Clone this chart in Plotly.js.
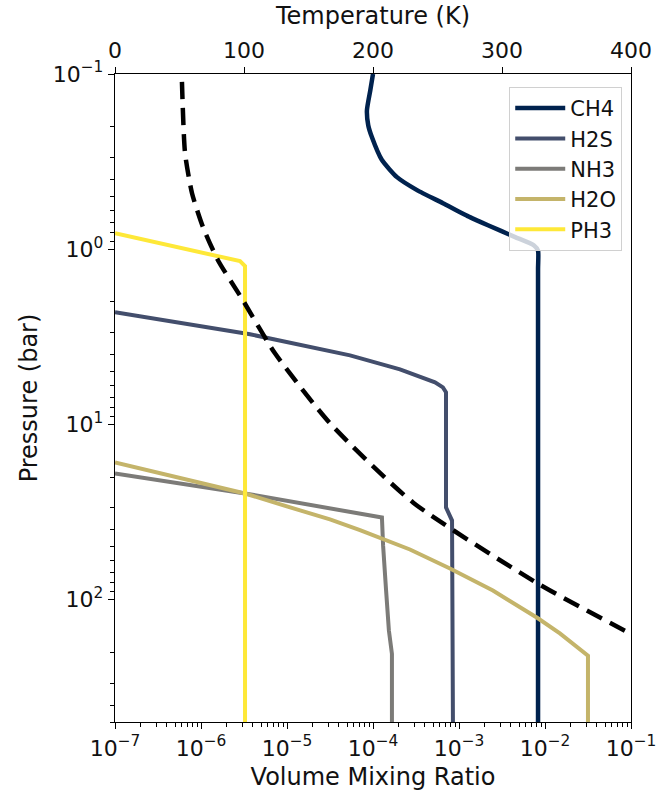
<!DOCTYPE html>
<html>
<head>
<meta charset="utf-8">
<script src="https://cdn.plot.ly/plotly-3.0.1.min.js"></script>
<style>html,body{margin:0;padding:0;background:#fff;}#chart{width:658px;height:798px;}</style>
</head>
<body>
<div id="chart"></div>
<script>
// ---- data ----
const ch4_vmr = [1.0e-4, 9.3e-5, 8.5e-5, 8.8e-5, 9.7e-5, 1.27e-4, 1.9e-4, 3.25e-4, 6.5e-4, 1.34e-3, 2.17e-3, 4.5e-3, 7.4e-3, 8.3e-3, 8.3e-3, 8.3e-3];
const ch4_p   = [0.1, 0.124, 0.161, 0.196, 0.229, 0.31, 0.388, 0.46, 0.546, 0.656, 0.73, 0.853, 0.95, 1.02, 1.3, 500];

const h2s_vmr = [1e-7, 3.72e-6, 5.41e-5, 2.06e-4, 5.26e-4, 6.5e-4, 7.06e-4, 7.06e-4, 8.3e-4, 8.5e-4];
const h2s_p   = [2.29, 3.06, 4.04, 4.85, 5.76, 6.15, 6.56, 29.8, 35.4, 500];

const nh3_vmr = [1e-7, 3.25e-6, 1.27e-4, 1.31e-4, 1.42e-4, 1.53e-4, 1.66e-4, 1.66e-4];
const nh3_p   = [19.1, 24.8, 34, 49.1, 88.8, 150, 204, 500];

const h2o_vmr = [1e-7, 5.7e-7, 3.25e-6, 1.42e-5, 3.16e-5, 7.06e-5, 2.69e-4, 7.85e-4, 2.48e-3, 8.1e-3, 1.49e-2, 3.16e-2, 3.16e-2];
const h2o_p   = [16.5, 20.1, 24.8, 31, 34.9, 40.1, 51.8, 66.5, 88.8, 127, 156, 209, 500];

const ph3_vmr = [1e-7, 2.84e-6, 3.25e-6, 3.25e-6];
const ph3_p   = [0.811, 1.17, 1.25, 500];

const temp_K  = [51.9, 54.3, 59.7, 68.2, 79.8, 99.2, 124, 166.7, 231, 327.9, 399.2];
const temp_p  = [0.111, 0.283, 0.479, 0.748, 1.156, 1.96, 3.93, 9.86, 27.9, 81.1, 156];

const species = ['CH4', 'H2S', 'NH3', 'H2O', 'PH3'];
const xTickVals = [1e-7, 1e-6, 1e-5, 1e-4, 1e-3, 1e-2, 1e-1];
const xTickText = ['10<sup>−7</sup>', '10<sup>−6</sup>', '10<sup>−5</sup>', '10<sup>−4</sup>', '10<sup>−3</sup>', '10<sup>−2</sup>', '10<sup>−1</sup>'];
const yTickVals = [0.1, 1, 10, 100];
const yTickText = ['10<sup>−1</sup>', '10<sup>0</sup>', '10<sup>1</sup>', '10<sup>2</sup>'];
const tTickVals = [0, 100, 200, 300, 400];

const colors = ['#00224e', '#434e6c', '#7c7b78', '#c4b46a', '#fee838'];
const vmrs = [ch4_vmr, h2s_vmr, nh3_vmr, h2o_vmr, ph3_vmr];
const ps = [ch4_p, h2s_p, nh3_p, h2o_p, ph3_p];
const widths = [4.5, 4, 4, 4, 4];

const traces = species.map((s, i) => {
  const line = {color: colors[i], width: widths[i], shape: 'linear'};
  if (i === 0) { line.shape = 'spline'; line.smoothing = 0.5; }
  return {x: vmrs[i], y: ps[i], name: s, type: 'scatter', mode: 'lines', line: line, xaxis: 'x', yaxis: 'y'};
});
traces.push({
  x: temp_K, y: temp_p, name: 'T', type: 'scatter', mode: 'lines', showlegend: false,
  line: {color: '#000', width: 4.5, dash: '17px,9px', shape: 'spline', smoothing: 0.6},
  xaxis: 'x2', yaxis: 'y'
});

const FONT = 'DejaVu Sans, sans-serif';
const layout = {
  width: 658, height: 798,
  margin: {l: 115, r: 27, t: 74, b: 76},
  paper_bgcolor: '#fff', plot_bgcolor: '#fff',
  font: {family: FONT, color: '#111', size: 22},
  showlegend: true,
  legend: {
    x: 0.983, xanchor: 'right', y: 0.98, yanchor: 'top',
    bgcolor: 'rgba(255,255,255,0.8)', bordercolor: '#d0d0d0', borderwidth: 1,
    font: {family: FONT, size: 21, color: '#111'}, itemwidth: 50, tracegroupgap: 0
  },
  xaxis: {
    type: 'log', range: [-7, -1], tickvals: xTickVals, ticktext: xTickText,
    showline: true, linecolor: '#000', linewidth: 1.2, mirror: false,
    ticks: 'outside', ticklen: 6, tickcolor: '#000', showgrid: false, zeroline: false,
    tickfont: {size: 22, family: FONT},
    minor: {ticks: 'outside', ticklen: 3.5, tickcolor: '#000', dtick: 'D1', showgrid: false},
    title: {text: 'Volume Mixing Ratio', font: {size: 24, family: FONT}, standoff: 8}
  },
  xaxis2: {
    overlaying: 'x', side: 'top', range: [0, 400], tickvals: tTickVals,
    showline: true, linecolor: '#000', linewidth: 1.2,
    ticks: 'outside', ticklen: 6, tickcolor: '#000', showgrid: false, zeroline: false,
    tickfont: {size: 22, family: FONT},
    title: {text: 'Temperature (K)', font: {size: 24, family: FONT}, standoff: 6}
  },
  yaxis: {
    type: 'log', range: [Math.log10(500), -1], tickvals: yTickVals, ticktext: yTickText,
    showline: true, linecolor: '#000', linewidth: 1.2, mirror: true,
    ticks: 'outside', ticklen: 6, tickcolor: '#000', showgrid: false, zeroline: false,
    tickfont: {size: 22, family: FONT},
    minor: {ticks: 'outside', ticklen: 3.5, tickcolor: '#000', dtick: 'D1', showgrid: false},
    title: {text: 'Pressure (bar)', font: {size: 24, family: FONT}, standoff: 8}
  }
};

Plotly.newPlot('chart', traces, layout, {staticPlot: true, displayModeBar: false});
</script>
</body>
</html>
